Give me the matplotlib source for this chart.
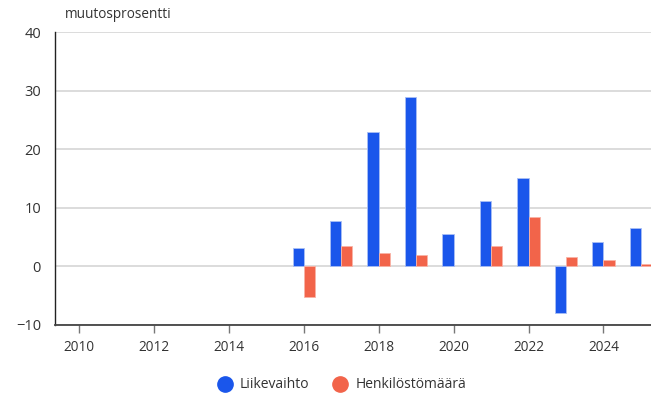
import matplotlib.pyplot as plt
from matplotlib.lines import Line2D
import numpy as np

plt.rcParams['font.family'] = ['Open Sans', 'DejaVu Sans']

years = [2016, 2017, 2018, 2019, 2020, 2021, 2022, 2023, 2024, 2025]
liikevaihto = [3.1, 7.7, 22.9, 28.9, 5.5, 11.2, 15.1, -7.9, 4.2, 6.6]
henkilosto = [-5.2, 3.4, 2.3, 2.0, np.nan, 3.4, 8.4, 1.6, 1.1, 0.4]
xticks = list(range(2010, 2026, 2))
yticks = [-10, 0, 10, 20, 30, 40]

blue = "#1a56eb"
orange = "#f2644a"

fig = plt.figure(figsize=(6.51, 4.0), dpi=100)
ax = fig.add_axes([55 / 651, 0.1875, 1 - 55 / 651, 0.92 - 0.1875])

x = np.array(years)
w = 0.3
ax.bar(x - w / 2, liikevaihto, width=w, color=blue, edgecolor="#a9bff5", linewidth=0.6, zorder=3)
ax.bar(x + w / 2, henkilosto, width=w, color=orange, edgecolor="#f9b3a6", linewidth=0.6, zorder=3)

ax.set_xlim(2009.36, 2025.27)
ax.set_ylim(-10, 40)
ax.set_xticks(xticks)
ax.set_yticks(yticks)
ax.set_yticklabels(["\u221210" if v < 0 else str(v) for v in yticks])
ax.grid(axis="y", color="#d6d6d6", linewidth=1.2, zorder=0)
ax.set_axisbelow(True)

for s in ["top", "right"]:
    ax.spines[s].set_visible(False)
ax.spines["left"].set_color("#222222")
ax.spines["left"].set_linewidth(1.0)
ax.spines["bottom"].set_color("#444444")
ax.spines["bottom"].set_linewidth(1.3)
ax.tick_params(axis="y", length=0, pad=10, labelsize=10.5, labelcolor="#333333")
ax.tick_params(axis="x", length=6, width=1, color="#777777", pad=5, labelsize=9.8, labelcolor="#333333")

fig.text(65 / 651, 1 - 14 / 400, "muutosprosentti", fontsize=9.8, color="#333333", va="center", ha="left")

handles = [
    Line2D([], [], marker="o", linestyle="none", markersize=11, color=blue, label="Liikevaihto"),
    Line2D([], [], marker="o", linestyle="none", markersize=11, color=orange, label="Henkilöstömäärä"),
]
fig.legend(handles=handles, loc="center", bbox_to_anchor=(0.52, 1 - 385 / 400), ncol=2,
           frameon=False, fontsize=10, handletextpad=0.1, columnspacing=1.2, labelcolor="#333333")

fig.savefig("out.png", dpi=100)
